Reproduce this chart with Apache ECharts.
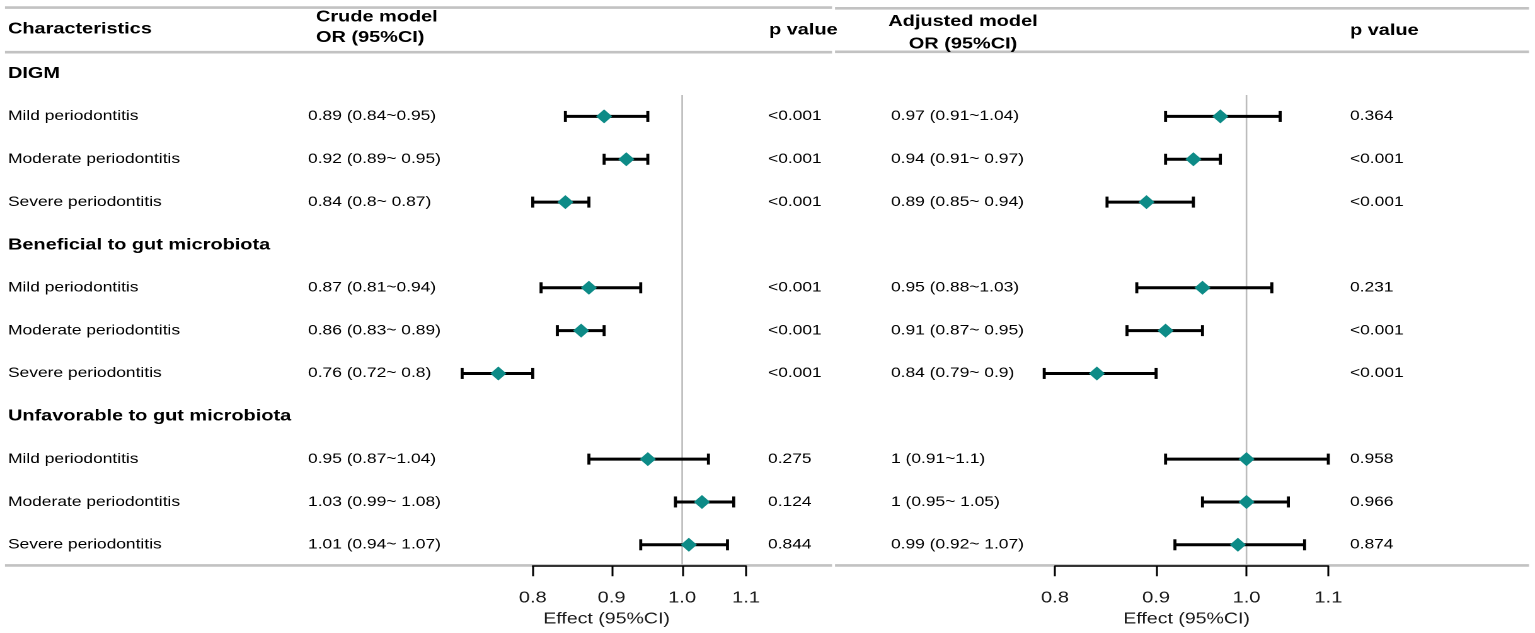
<!DOCTYPE html>
<html><head><meta charset="utf-8">
<script src="https://cdn.jsdelivr.net/npm/echarts@6/dist/echarts.min.js"></script>
<style>
html,body{margin:0;padding:0;background:#fff;overflow:hidden}
#chart{width:1218px;height:633px;transform-origin:0 0;transform:scaleX(1.26026)}
</style></head><body><div id="chart"></div>
<script>
// ---------------- data ----------------
const characteristics = ['DIGM','Mild periodontitis','Moderate periodontitis','Severe periodontitis',
  'Beneficial to gut microbiota','Mild periodontitis','Moderate periodontitis','Severe periodontitis',
  'Unfavorable to gut microbiota','Mild periodontitis','Moderate periodontitis','Severe periodontitis'];
const isGroupRow = [true,false,false,false,true,false,false,false,true,false,false,false];

const crudeOR   = [null,0.89,0.92,0.84,null,0.87,0.86,0.76,null,0.95,1.03,1.01];
const crudeLow  = [null,0.84,0.89,0.80,null,0.81,0.83,0.72,null,0.87,0.99,0.94];
const crudeHigh = [null,0.95,0.95,0.87,null,0.94,0.89,0.80,null,1.04,1.08,1.07];
const crudeText = ['','0.89 (0.84~0.95)','0.92 (0.89~ 0.95)','0.84 (0.8~ 0.87)','',
  '0.87 (0.81~0.94)','0.86 (0.83~ 0.89)','0.76 (0.72~ 0.8)','',
  '0.95 (0.87~1.04)','1.03 (0.99~ 1.08)','1.01 (0.94~ 1.07)'];
const crudeP = ['','<0.001','<0.001','<0.001','','<0.001','<0.001','<0.001','','0.275','0.124','0.844'];

const adjOR   = [null,0.97,0.94,0.89,null,0.95,0.91,0.84,null,1.00,1.00,0.99];
const adjLow  = [null,0.91,0.91,0.85,null,0.88,0.87,0.79,null,0.91,0.95,0.92];
const adjHigh = [null,1.04,0.97,0.94,null,1.03,0.95,0.90,null,1.10,1.05,1.07];
const adjText = ['','0.97 (0.91~1.04)','0.94 (0.91~ 0.97)','0.89 (0.85~ 0.94)','',
  '0.95 (0.88~1.03)','0.91 (0.87~ 0.95)','0.84 (0.79~ 0.9)','',
  '1 (0.91~1.1)','1 (0.95~ 1.05)','0.99 (0.92~ 1.07)'];
const adjP = ['','0.364','<0.001','<0.001','','0.231','<0.001','<0.001','','0.958','0.966','0.874'];

const tickValues = [0.8, 0.9, 1.0, 1.1];
const axisTitle = 'Effect (95%CI)';
const refValue = 1.0;

// ---------------- layout (reference pixel units) ----------------
const K = 1535 / 1218;               // horizontal stretch of the reference
const FONT = '"Liberation Sans", Arial, sans-serif';
const TXT = 13.8, BOLD = 15.8;
const gridTop = 9.35, gridBottom = 66.8;
const col = { char: 8, crude: 308, crudeP: 768, adj: 891, adjP: 1350 };
const panels = [
  { x0: 532.7, x1: 746.0 },
  { x0: 1055.0, x1: 1328.3 }
];
const lg = v => Math.log10(v);
const rowCats = ['header'].concat(characteristics.map((c, i) => 'r' + i));

// table text items
const tableItems = [];
const hdr = (text, x, dy, align) => tableItems.push({ x, row: 0, dy, text, bold: true, size: BOLD, align: align || 'left' });
hdr('Characteristics', col.char, -1.5);
hdr('Crude model', 316, -13.5);
hdr('OR (95%CI)', 316, 7);
hdr('p value', 769, -0.5);
hdr('Adjusted model', 963, -9, 'center');
hdr('OR (95%CI)', 963, 13.5, 'center');
hdr('p value', col.adjP, 0);
characteristics.forEach((c, i) => {
  const row = i + 1;
  tableItems.push({ x: col.char, row, dy: 0, text: c, bold: isGroupRow[i], size: isGroupRow[i] ? BOLD : TXT, align: 'left' });
  if (!isGroupRow[i]) {
    tableItems.push({ x: col.crude, row, dy: 0, text: crudeText[i], bold: false, size: TXT, align: 'left' });
    tableItems.push({ x: col.crudeP, row, dy: 0, text: crudeP[i], bold: false, size: TXT, align: 'left' });
    tableItems.push({ x: col.adj, row, dy: 0, text: adjText[i], bold: false, size: TXT, align: 'left' });
    tableItems.push({ x: col.adjP, row, dy: 0, text: adjP[i], bold: false, size: TXT, align: 'left' });
  }
});

// horizontal rules: [x1, x2, row, side(-1 top / +1 bottom), dy]
const rules = [
  [5, 832, 0, -1, -1.8], [835, 1529, 0, -1, -1.0],
  [5, 832, 0, 1, 0], [835, 1529, 0, 1, -0.4],
  [5, 832, 12, 1, -0.8], [835, 1529, 12, 1, -0.8]
];

const forestData = (est, lo, hi) => est.map((v, i) => v == null ? null : [lg(v), i + 1, lg(lo[i]), lg(hi[i])]).filter(d => d);

function renderForest(params, api) {
  const row = api.value(1);
  const pe = api.coord([api.value(0), row]);
  const xl = api.coord([api.value(2), row])[0];
  const xh = api.coord([api.value(3), row])[0];
  const y = pe[1];
  return { type: 'group', children: [
    { type: 'line', shape: { x1: xl, y1: y, x2: xh, y2: y }, style: { stroke: '#000', lineWidth: 3 } },
    { type: 'line', shape: { x1: xl, y1: y - 5.5, x2: xl, y2: y + 5.5 }, style: { stroke: '#000', lineWidth: 2.4 } },
    { type: 'line', shape: { x1: xh, y1: y - 5.5, x2: xh, y2: y + 5.5 }, style: { stroke: '#000', lineWidth: 2.4 } },
    { type: 'polygon', shape: { points: [[pe[0], y - 7], [pe[0] + 6.4, y], [pe[0], y + 7], [pe[0] - 6.4, y]] }, style: { fill: '#0d8b87' } }
  ]};
}
function renderRef(params, api) {
  const band = api.size([0, 1])[1];
  const a = api.coord([api.value(0), api.value(1)]);
  const b = api.coord([api.value(0), api.value(2)]);
  return { type: 'line', shape: { x1: a[0], y1: a[1] + band / 2, x2: b[0], y2: b[1] + band / 2 },
    style: { stroke: '#bcbcbc', lineWidth: 1.3 } };
}

const chart = echarts.init(document.getElementById('chart'), null, { renderer: 'canvas', devicePixelRatio: 2 });

const grids = [{ left: 0, right: 0, top: gridTop, bottom: gridBottom }];
panels.forEach(p => grids.push({ left: p.x0 / K, right: (1535 - p.x1) / K, top: gridTop, bottom: gridBottom }));

const xAxes = [{ gridIndex: 0, type: 'value', min: 0, max: 1535, show: false }];
const namePad = [52, 8];
panels.forEach((p, i) => xAxes.push({
  gridIndex: i + 1, type: 'value', min: lg(tickValues[0]), max: lg(tickValues[tickValues.length - 1]),
  z: 10,
  axisLine: { show: true, lineStyle: { color: '#000', width: 1.5 } },
  axisTick: { show: true, length: 10, customValues: tickValues.map(lg), lineStyle: { color: '#000', width: 1.5 } },
  axisLabel: { customValues: tickValues.map(lg), formatter: v => Math.pow(10, v).toFixed(1), fontSize: 16, fontFamily: FONT, color: '#1a1a1a', margin: 24 },
  splitLine: { show: false },
  name: axisTitle, nameLocation: 'middle', nameGap: 44,
  nameTextStyle: { fontSize: 15.5, fontFamily: FONT, color: '#1a1a1a', padding: [0, namePad[i], 0, 0] }
}));
const yAxes = [0, 1, 2].map(g => ({ gridIndex: g, type: 'category', data: rowCats, inverse: true, show: false }));

const series = [
  { type: 'custom', name: 'rules', xAxisIndex: 0, yAxisIndex: 0, silent: true, z: 1,
    data: rules.map(r => [r[0], r[2], r[1], r[3], r[4]]),
    encode: { x: [0, 2], y: 1 },
    renderItem: (params, api) => {
      const band = api.size([0, 1])[1];
      const a = api.coord([api.value(0), api.value(1)]);
      const b = api.coord([api.value(2), api.value(1)]);
      const y = a[1] + api.value(3) * band / 2 + api.value(4);
      return { type: 'line', shape: { x1: a[0], y1: y, x2: b[0], y2: y }, style: { stroke: '#c2c2c2', lineWidth: 2.6 } };
    } },
  { type: 'custom', name: 'table', xAxisIndex: 0, yAxisIndex: 0, silent: true, z: 3,
    data: tableItems.map(t => [t.x, t.row]),
    encode: { x: 0, y: 1 },
    renderItem: (params, api) => {
      const t = tableItems[params.dataIndex];
      const p = api.coord([t.x, t.row]);
      return { type: 'text', x: p[0], y: p[1] + t.dy,
        style: { text: t.text, fontSize: t.size, fontWeight: t.bold ? 'bold' : 'normal', fontFamily: FONT,
          fill: '#000', align: t.align, verticalAlign: 'middle' } };
    } }
];
[[crudeOR, crudeLow, crudeHigh], [adjOR, adjLow, adjHigh]].forEach((s, i) => {
  series.push({ type: 'custom', name: 'ref' + i, xAxisIndex: i + 1, yAxisIndex: i + 1, silent: true, z: 2, clip: false,
    data: [[lg(refValue), 1, characteristics.length]], encode: { x: 0, y: [1, 2] }, renderItem: renderRef });
  series.push({ type: 'custom', name: 'forest' + i, xAxisIndex: i + 1, yAxisIndex: i + 1, silent: true, z: 4, clip: false,
    data: forestData(s[0], s[1], s[2]), encode: { x: [0, 2, 3], y: 1 }, renderItem: renderForest });
});

chart.setOption({ animation: false, backgroundColor: '#fff', grid: grids, xAxis: xAxes, yAxis: yAxes, series });
</script></body></html>
